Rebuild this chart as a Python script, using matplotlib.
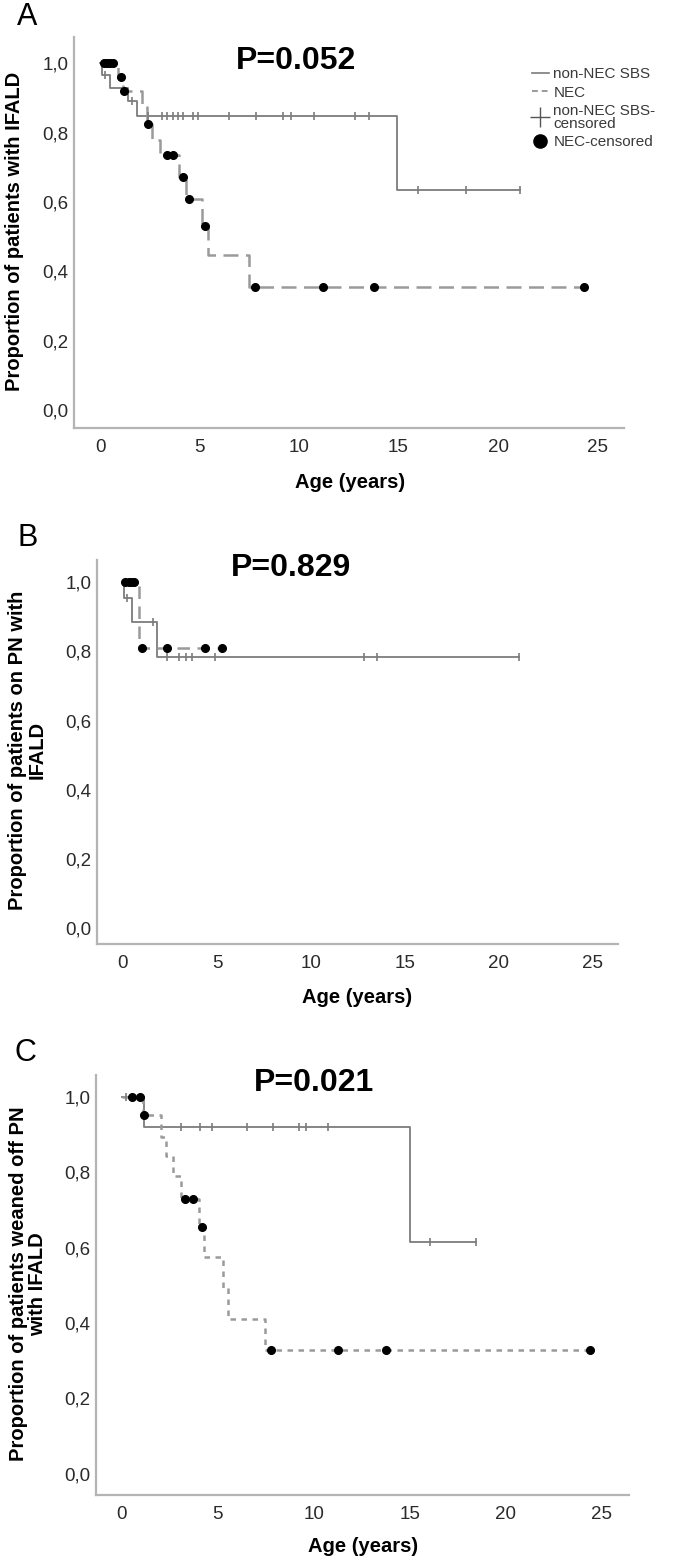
import numpy as np
import matplotlib
matplotlib.use('Agg')
import matplotlib.pyplot as plt
from matplotlib.lines import Line2D
from matplotlib import font_manager

W, H, DPI = 685, 1563, 100

# ---------------- data ----------------
# Panel A: proportion of patients with IFALD
a_nonnec_t = [0.0, 0.12, 0.50, 1.40, 1.84, 14.9, 21.1]
a_nonnec_s = [1.0, 0.967, 0.930, 0.890, 0.847, 0.635, 0.635]
a_nonnec_cens = [0.26, 1.6, 2.4, 3.1, 3.35, 3.65, 3.9, 4.15, 4.65, 4.9, 6.5,
                 7.85, 9.2, 9.6, 10.75, 12.8, 13.5, 16.0, 18.4, 21.1]
a_nec_t = [0.0, 0.9, 1.15, 2.1, 2.35, 2.6, 3.0, 3.95, 4.3, 5.1, 5.4, 7.5, 24.34]
a_nec_s = [1.0, 0.962, 0.921, 0.873, 0.826, 0.78, 0.735, 0.673, 0.609, 0.531,
           0.446, 0.356, 0.356]
a_nec_cens = [0.2, 0.35, 0.5, 0.65, 1.05, 1.2, 2.42, 3.35, 3.65, 4.15, 4.45,
              5.28, 7.8, 11.2, 13.78, 24.34]

# Panel B: proportion of patients on PN with IFALD
b_nonnec_t = [0.0, 0.03, 0.46, 1.79, 21.05]
b_nonnec_s = [1.0, 0.953, 0.885, 0.784, 0.784]
b_nonnec_cens = [0.2, 1.6, 2.33, 2.98, 3.33, 3.68, 4.9, 12.8, 13.5, 21.05]
b_nec_t = [0.0, 0.87, 5.25]
b_nec_s = [1.0, 0.81, 0.81]
b_nec_cens = [0.1, 0.3, 0.45, 0.6, 0.99, 2.36, 4.36, 5.25]

# Panel C: proportion of patients weaned off PN with IFALD
c_nonnec_t = [0.0, 1.15, 14.98, 18.44]
c_nonnec_s = [1.0, 0.921, 0.614, 0.614]
c_nonnec_cens = [0.2, 3.08, 4.08, 4.67, 6.5, 7.86, 9.2, 9.58, 10.74, 16.05, 18.44]
c_nec_t = [0.0, 1.1, 2.03, 2.31, 2.65, 3.08, 4.0, 4.25, 5.25, 5.5, 7.45, 24.4]
c_nec_s = [1.0, 0.952, 0.893, 0.842, 0.789, 0.729, 0.656, 0.576, 0.494, 0.411,
           0.329, 0.329]
c_nec_cens = [0.5, 0.95, 1.16, 3.28, 3.71, 4.15, 7.79, 11.23, 13.77, 24.4]

x_ticks = [0, 5, 10, 15, 20, 25]
y_ticks = [0.0, 0.2, 0.4, 0.6, 0.8, 1.0]
y_ticklabels = ['0,0', '0,2', '0,4', '0,6', '0,8', '1,0']

panel_letters = ['A', 'B', 'C']
p_values = ['P=0.052', 'P=0.829', 'P=0.021']
y_labels = ['Proportion of patients with IFALD',
            'Proportion of patients on PN with\nIFALD',
            'Proportion of patients weaned off PN\nwith IFALD']
x_label = 'Age (years)'
legend_labels = ['non-NEC SBS', 'NEC', 'non-NEC SBS-\ncensored', 'NEC-censored']

# ---------------- fonts ----------------
def has_font(name):
    try:
        font_manager.findfont(font_manager.FontProperties(family=name),
                              fallback_to_default=False)
        return True
    except Exception:
        return False

BASE = 'Liberation Sans' if has_font('Liberation Sans') else 'DejaVu Sans'
NARROW = 'Liberation Sans Narrow' if has_font('Liberation Sans Narrow') else BASE
plt.rcParams['font.family'] = [BASE, 'DejaVu Sans']

# ---------------- helpers ----------------
def rect(left, right, top, bottom):
    return [left / W, 1 - bottom / H, (right - left) / W, (bottom - top) / H]

def fx(x):
    return x / W

def fy(y):
    return 1 - y / H

def step_value(t, s, c):
    t = np.asarray(t); s = np.asarray(s)
    idx = np.searchsorted(t, c, side='right') - 1
    return s[np.clip(idx, 0, len(s) - 1)]

SOLID = '#7c7c7c'
DASHC = '#9a9a9a'
SPINE = '#b4b4b4'

fig = plt.figure(figsize=(W / DPI, H / DPI), dpi=DPI)

panels = [
    dict(rect=(74, 624, 37, 428), xlim=(-1.31, 26.33), ylim=(-0.052, 1.076),
         nn=(a_nonnec_t, a_nonnec_s, a_nonnec_cens), ne=(a_nec_t, a_nec_s, a_nec_cens),
         dash=(6, 3), letter=(27, 17), p=(296, 61), ylab=(15, 231), xlab=(350, 483)),
    dict(rect=(97, 618, 560, 944), xlim=(-1.38, 26.33), ylim=(-0.046, 1.064),
         nn=(b_nonnec_t, b_nonnec_s, b_nonnec_cens), ne=(b_nec_t, b_nec_s, b_nec_cens),
         dash=(5, 3), letter=(28, 538), p=(291, 568), ylab=(27, 750), xlab=(357, 997)),
    dict(rect=(96, 629, 1075, 1495), xlim=(-1.35, 26.41), ylim=(-0.056, 1.058),
         nn=(c_nonnec_t, c_nonnec_s, c_nonnec_cens), ne=(c_nec_t, c_nec_s, c_nec_cens),
         dash=(2.2, 2.2), letter=(25, 1053), p=(314, 1083), ylab=(28, 1284), xlab=(363, 1547)),
]

for i, pn in enumerate(panels):
    ax = fig.add_axes(rect(*pn['rect']))
    ax.set_xlim(*pn['xlim'])
    ax.set_ylim(*pn['ylim'])
    for side in ['top', 'right']:
        ax.spines[side].set_visible(False)
    for side in ['left', 'bottom']:
        ax.spines[side].set_color(SPINE)
        ax.spines[side].set_linewidth(1.6)
    ax.set_xticks(x_ticks)
    ax.set_yticks(y_ticks)
    ax.set_yticklabels(y_ticklabels)
    ax.tick_params(axis='both', length=0, labelsize=13.5, labelcolor='#2a2a2a')
    ax.tick_params(axis='x', pad=8)
    ax.tick_params(axis='y', pad=4)
    ax.patch.set_alpha(0)

    t, s, cens = pn['nn']
    ax.step(t, s, where='post', color=SOLID, lw=1.3, zorder=2)
    ax.plot(cens, step_value(t, s, cens), ls='none', marker='|', ms=6,
            mew=1.2, color=SOLID, zorder=3)

    t, s, cens = pn['ne']
    ax.step(t, s, where='post', color=DASHC, lw=1.8, dashes=pn['dash'], zorder=2)
    ax.plot(cens, step_value(t, s, cens), ls='none', marker='o', ms=5.5,
            color='black', zorder=4)

    fig.text(fx(pn['letter'][0]), fy(pn['letter'][1]), panel_letters[i],
             fontsize=22, ha='center', va='center', color='black')
    fig.text(fx(pn['p'][0]), fy(pn['p'][1]), p_values[i], fontsize=23,
             fontweight='bold', family=[NARROW, BASE], ha='center', va='center')
    fig.text(fx(pn['ylab'][0]), fy(pn['ylab'][1]), y_labels[i], rotation=90,
             fontsize=14.5, fontweight='bold', ha='center', va='center',
             multialignment='center', linespacing=1.05)
    fig.text(fx(pn['xlab'][0]), fy(pn['xlab'][1]), x_label, fontsize=14.5,
             fontweight='bold', ha='center', va='center')

# legend for panel A
handles = [
    Line2D([], [], color=SOLID, lw=1.2),
    Line2D([], [], color=DASHC, lw=1.4, dashes=(3, 2)),
    Line2D([], [], ls='none', marker='+', ms=14, mew=1.0, color='#555555'),
    Line2D([], [], ls='none', marker='o', ms=9.5, color='black'),
]
leg = fig.legend(handles, legend_labels, loc='upper left',
                 bbox_to_anchor=(fx(532), fy(67)), frameon=False,
                 prop=dict(family=[NARROW, BASE], size=11),
                 handlelength=1.1, handletextpad=0.3, labelspacing=0.3,
                 borderpad=0, borderaxespad=0)
for txt in leg.get_texts():
    txt.set_color('#3a3a3a')
    txt.set_linespacing(0.85)

fig.savefig('out.png', dpi=DPI)
